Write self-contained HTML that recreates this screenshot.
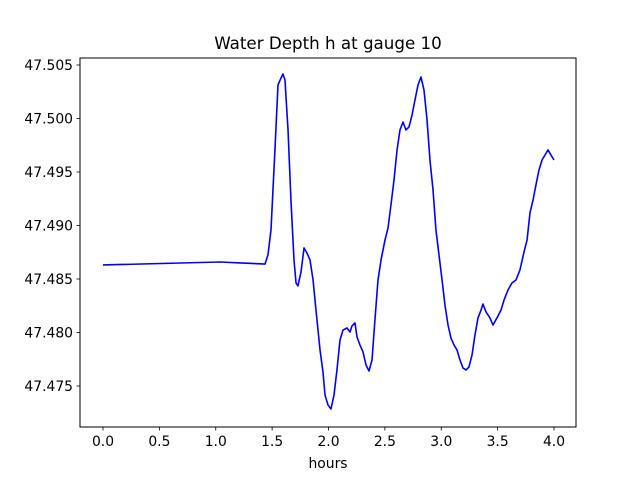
<!DOCTYPE html>
<html><head><meta charset="utf-8"><style>
body{margin:0;background:#fff;}
svg text{font-family:"DejaVu Sans","Liberation Sans",sans-serif;fill:#000;}
</style></head><body>
<svg id="chart" width="640" height="480" viewBox="0 0 640 480" xmlns="http://www.w3.org/2000/svg">
<rect width="640" height="480" fill="#fff"/>
<text x="328" y="49" font-size="16.7" text-anchor="middle">Water Depth h at gauge 10</text>
<text x="328" y="468" font-size="13.9" text-anchor="middle">hours</text>
<g id="ticks"></g>
<polyline id="series" fill="none" stroke="#0000ff" stroke-width="1.6" stroke-linejoin="round"/>
<rect x="80" y="58" width="496" height="369" fill="none" stroke="#000" stroke-width="1"/>
</svg>
<script>
const hours=[0,1.038,1.215,1.437,1.463,1.490,1.525,1.552,1.579,1.596,1.614,1.641,1.667,1.694,1.712,1.729,1.756,1.783,1.809,1.836,1.863,1.889,1.925,1.951,1.969,1.996,2.022,2.049,2.075,2.102,2.129,2.164,2.191,2.208,2.235,2.253,2.279,2.306,2.333,2.359,2.386,2.412,2.439,2.466,2.501,2.528,2.554,2.581,2.608,2.634,2.661,2.687,2.714,2.741,2.767,2.794,2.820,2.847,2.874,2.900,2.927,2.953,2.980,3.007,3.033,3.060,3.086,3.113,3.140,3.166,3.193,3.220,3.246,3.273,3.299,3.326,3.353,3.370,3.397,3.432,3.459,3.494,3.530,3.557,3.592,3.627,3.663,3.698,3.734,3.761,3.787,3.814,3.840,3.867,3.894,3.920,3.947,3.973,4.0];
const depth=[47.48631,47.48659,47.48650,47.48640,47.48724,47.48958,47.49706,47.50313,47.50379,47.50416,47.50360,47.49893,47.49238,47.48678,47.48463,47.48435,47.48565,47.48790,47.48743,47.48678,47.48491,47.48210,47.47836,47.47631,47.47416,47.47322,47.47285,47.47416,47.47650,47.47930,47.48023,47.48042,47.48005,47.48061,47.48089,47.47958,47.47883,47.47818,47.47696,47.47640,47.47743,47.48117,47.48491,47.48678,47.48864,47.48977,47.49192,47.49425,47.49706,47.49893,47.49967,47.49893,47.49921,47.50033,47.50173,47.50313,47.50388,47.50266,47.49986,47.49612,47.49332,47.48958,47.48724,47.48491,47.48257,47.48070,47.47949,47.47883,47.47836,47.47743,47.47668,47.47650,47.47678,47.47790,47.47977,47.48136,47.48210,47.48266,47.48192,47.48136,47.48070,47.48136,47.48210,47.48304,47.48397,47.48463,47.48491,47.48584,47.48752,47.48864,47.49117,47.49238,47.49379,47.49519,47.49612,47.49659,47.49706,47.49659,47.49612];
const xTicks=[0,0.5,1,1.5,2,2.5,3,3.5,4];
const xTickLabels=["0.0","0.5","1.0","1.5","2.0","2.5","3.0","3.5","4.0"];
const yTicks=[47.475,47.480,47.485,47.490,47.495,47.500,47.505];
const yTickLabels=["47.475","47.480","47.485","47.490","47.495","47.500","47.505"];
const X=h=>103+h*112.75;
const Y=v=>65+(47.505-v)*10700;
const NS="http://www.w3.org/2000/svg";
const g=document.getElementById('ticks');
function mk(tag,attrs){const e=document.createElementNS(NS,tag);for(const k in attrs)e.setAttribute(k,attrs[k]);return e;}
xTicks.forEach((t,i)=>{
  const l=mk('line',{x1:X(t),x2:X(t),y1:427,y2:430.5,stroke:'#000','stroke-width':0.8});
  
  
  g.appendChild(l);
  const tx=mk('text',{x:X(t),y:446,'font-size':13.9,'text-anchor':'middle'});
  
  
  tx.textContent=xTickLabels[i];g.appendChild(tx);
});
yTicks.forEach((t,i)=>{
  const l=mk('line',{x1:76.5,x2:80,y1:Y(t),y2:Y(t),stroke:'#000','stroke-width':0.8});
  
  
  g.appendChild(l);
  const tx=mk('text',{x:73,y:Y(t)+5,'font-size':13.9,'text-anchor':'end'});
  
  
  tx.textContent=yTickLabels[i];g.appendChild(tx);
});
document.getElementById('series').setAttribute('points',hours.map((h,i)=>X(h).toFixed(2)+','+Y(depth[i]).toFixed(2)).join(' '));
</script>
</body></html>
